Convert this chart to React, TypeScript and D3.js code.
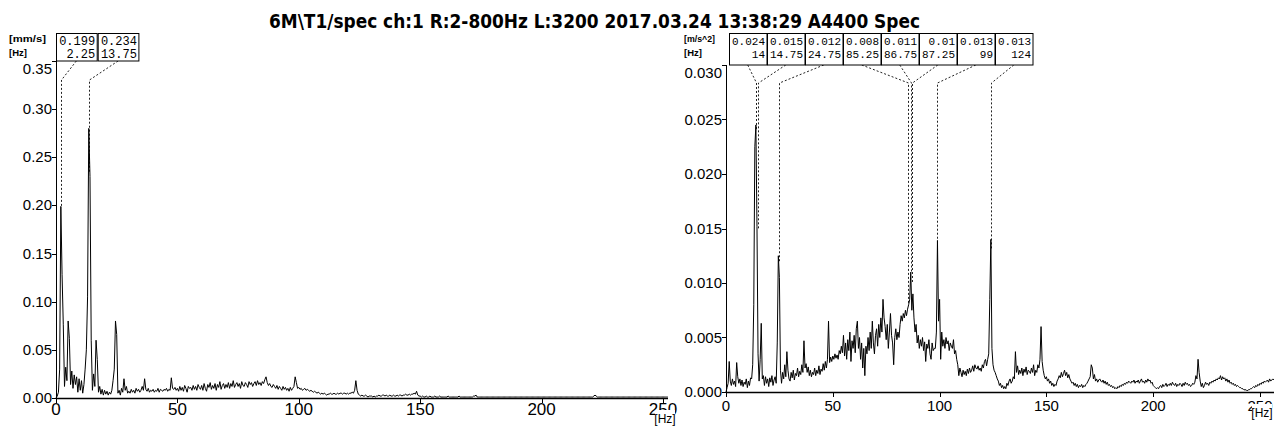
import * as d3 from "d3";

const title = "6M\\T1/spec ch:1 R:2-800Hz L:3200 2017.03.24 13:38:29 A4400 Spec";

// spectrum lines, 0.5 Hz apart starting at 0 Hz
const stepHz = 0.5;

// velocity, in 0.001 mm/s
const velocitySpec = [
  0, 2, 6, 30, 199, 128, 76, 12, 32, 18, 80, 62, 14, 28, 10, 24, 14, 22, 6, 20,
  8, 18, 5, 14, 30, 50, 105, 280, 230, 60, 8, 25, 12, 60, 40, 6, 12, 4, 9, 3,
  8, 4, 7, 3, 6, 4, 8, 18, 30, 80, 66, 5, 8, 3, 10, 6, 20, 8, 12, 5,
  7, 5, 9, 6, 8, 5, 10, 7, 9, 6, 8, 12, 8, 20, 9, 7, 10, 6, 8, 7,
  9, 6, 8, 7, 10, 6, 9, 8, 7, 9, 8, 10, 7, 9, 8, 21, 10, 9, 11, 8,
  10, 7, 12, 8, 11, 7, 13, 10, 6, 12, 10, 11, 8, 13, 9, 12, 8, 14, 11, 9,
  13, 8, 15, 10, 7, 14, 11, 16, 9, 13, 10, 15, 8, 14, 11, 17, 9, 13, 15, 10,
  14, 11, 16, 10, 15, 12, 18, 11, 14, 16, 12, 15, 10, 17, 13, 12, 16, 14, 11, 17,
  14, 16, 12, 15, 17, 13, 18, 14, 16, 13, 17, 15, 19, 22, 16, 13, 15, 12, 11, 14,
  12, 10, 13, 9, 12, 10, 8, 12, 9, 11, 8, 10, 7, 11, 8, 10, 12, 22, 16, 10,
  11, 9, 10, 8, 9, 10, 8, 9, 8, 7, 8, 7, 6, 7, 6, 5, 6, 5, 4, 5,
  4, 5, 4, 3, 4, 4, 5, 4, 4, 5, 4, 4, 5, 4, 5, 5, 4, 5, 5, 4,
  5, 4, 5, 5, 6, 5, 8, 18, 8, 4, 3, 2, 3, 2, 2, 3, 2, 1, 2, 2,
  2, 1, 2, 1, 2, 2, 3, 2, 2, 3, 3, 2, 3, 2, 2, 3, 2, 2, 3, 2,
  2, 3, 2, 3, 3, 2, 3, 3, 4, 3, 3, 4, 3, 4, 4, 5, 4, 7, 3, 2,
  2, 1, 2, 1, 1, 2, 1, 1, 2, 1, 1, 1, 2, 1, 1, 1, 2, 1, 1, 1,
  1, 1, 1, 2, 1, 1, 1, 1, 1, 1, 1, 1, 2, 1, 1, 1, 1, 1, 1, 1,
  1, 1, 1, 1, 2, 2, 3, 1, 1, 1, 1, 1, 1, 1, 1, 1, 1, 1, 1, 1,
  1, 1, 1, 1, 1, 1, 1, 1, 1, 1, 1, 1, 1, 1, 1, 1, 1, 1, 1, 1,
  1, 1, 1, 1, 1, 1, 1, 1, 1, 1, 1, 1, 1, 1, 1, 1, 1, 1, 1, 1,
  1, 1, 1, 1, 1, 1, 1, 1, 1, 1, 1, 1, 1, 1, 1, 1, 1, 1, 1, 1,
  1, 1, 1, 1, 1, 1, 1, 1, 1, 1, 1, 1, 1, 1, 1, 1, 1, 1, 1, 1,
  1, 1, 1, 2, 3, 2, 1, 1, 1, 1, 1, 1, 1, 1, 1, 1, 1, 1, 1, 1,
  1, 1, 1, 1, 1, 1, 1, 1, 1, 1, 1, 1, 1, 1, 1, 1, 1, 1, 1, 1,
  1, 1, 1, 1, 1, 1, 1, 1, 1, 1, 1, 1, 1, 1, 1, 1, 1, 1, 1, 1,
  1, 1, 1, 1, 1,
];

// acceleration, in 0.0001 m/s^2
const accelSpec = [
  0, 4, 8, 28, 10, 6, 12, 7, 10, 5, 27, 14, 8, 12, 6, 11, 5, 9, 7, 12,
  4, 10, 6, 13, 12, 25, 80, 225, 245, 152, 35, 10, 30, 63, 12, 15, 6, 14, 8, 12,
  5, 13, 9, 15, 6, 11, 14, 8, 45, 125, 105, 20, 8, 18, 12, 25, 14, 37, 20, 12,
  10, 18, 13, 20, 11, 17, 15, 22, 14, 19, 16, 25, 18, 47, 22, 26, 18, 23, 15, 20,
  14, 18, 16, 22, 15, 20, 17, 24, 16, 21, 19, 26, 20, 28, 22, 30, 65, 27, 32, 28,
  33, 30, 35, 31, 34, 30, 38, 35, 42, 36, 52, 33, 45, 30, 48, 38, 55, 28, 47, 40,
  52, 36, 58, 65, 40, 50, 30, 45, 22, 40, 15, 42, 35, 50, 38, 55, 40, 65, 45, 35,
  52, 58, 42, 62, 50, 68, 55, 85, 68, 60, 48, 62, 40, 55, 72, 52, 45, 25, 50, 58,
  48, 55, 50, 62, 70, 65, 72, 68, 75, 70, 76, 80, 85, 110, 75, 90, 68, 55, 62, 45,
  52, 40, 48, 42, 50, 38, 46, 28, 44, 40, 48, 35, 30, 45, 38, 40, 40, 55, 139, 65,
  85, 30, 55, 42, 48, 40, 50, 44, 47, 38, 45, 42, 40, 48, 35, 38, 30, 25, 15, 22,
  18, 14, 20, 16, 19, 15, 21, 17, 22, 18, 20, 24, 19, 25, 22, 21, 24, 20, 22, 19,
  25, 22, 28, 30, 24, 30, 35, 85, 140, 40, 25, 20, 18, 15, 12, 10, 6, 8, 4, 6,
  3, 5, 3, 8, 6, 10, 12, 8, 10, 14, 12, 37, 18, 24, 16, 20, 17, 22, 15, 21,
  18, 23, 16, 20, 19, 17, 22, 18, 25, 15, 20, 18, 25, 22, 30, 60, 28, 20, 15, 12,
  14, 10, 12, 8, 10, 6, 8, 5, 7, 6, 10, 12, 15, 13, 18, 14, 17, 20, 15, 18,
  13, 16, 12, 10, 8, 9, 6, 8, 5, 7, 4, 6, 5, 7, 4, 6, 5, 7, 8, 10,
  12, 14, 25, 22, 12, 16, 10, 12, 9, 11, 12, 10, 9, 11, 8, 10, 7, 9, 6, 7,
  5, 6, 4, 5, 3, 4, 3, 5, 4, 6, 5, 7, 6, 8, 7, 9, 8, 10, 9, 8,
  10, 9, 11, 8, 10, 9, 11, 8, 10, 12, 9, 10, 8, 11, 9, 12, 10, 11, 8, 9,
  6, 5, 4, 3, 4, 3, 5, 6, 4, 7, 5, 6, 8, 5, 7, 6, 8, 6, 9, 7,
  6, 8, 5, 7, 6, 8, 7, 5, 8, 6, 9, 7, 8, 6, 7, 5, 6, 8, 7, 9,
  15, 12, 30, 18, 10, 5, 8, 4, 6, 9, 7, 8, 6, 9, 8, 10, 9, 11, 10, 12,
  11, 13, 12, 15, 11, 14, 12, 13, 10, 12, 9, 11, 8, 9, 7, 8, 6, 7, 5, 6,
  5, 4, 4, 3, 3, 2, 2, 2, 1, 2, 2, 3, 3, 4, 5, 4, 6, 5, 7, 6,
  8, 7, 9, 8, 10, 9, 10, 11, 9, 12, 10, 11, 12, 11, 12,
];

const velMarkerHz = [2.25, 13.75];
const velMarkerVal = [0.199, 0.234];
const accMarkerHz = [14, 14.75, 24.75, 85.25, 86.75, 87.25, 99, 124];
const accMarkerVal = [0.024, 0.015, 0.012, 0.008, 0.011, 0.01, 0.013, 0.013];

const xTicks = [0, 50, 100, 150, 200, 250];
const velYTicks = [0, 0.05, 0.1, 0.15, 0.2, 0.25, 0.3, 0.35];
const accYTicks = [0, 0.005, 0.01, 0.015, 0.02, 0.025, 0.03];

const sans = "'Liberation Sans', Arial, sans-serif";
const mono = "'Liberation Mono', 'DejaVu Sans Mono', monospace";

function Panel({
  values, unit, x0, x1, xEnd, yBottom, yTop, yMax, yTicks, digits, xFont, xLabelDy,
  markerHz, markerVal, boxX, boxW, boxStep, boxFont, bendY, unitLabel, unitX, unitW,
}: any) {
  const x = d3.scaleLinear().domain([0, 250]).range([x0, x1]);
  const y = d3.scaleLinear().domain([0, yMax]).range([yBottom, yTop]);
  const line = d3
    .line<number>()
    .x((_, i) => x(i * stepHz))
    .y(d => y(d / unit));
  const boxTop = 33.5;
  const last = yTicks[yTicks.length - 1];

  return (
    <g>
      {/* markers */}
      {markerHz.map((f: number, i: number) => {
        const bx = boxX + i * boxStep;
        const cx = bx + boxW / 2;
        const px = Math.round(x(f)) + 0.5;
        return (
          <g key={i}>
            <path
              d={`M${cx},${yTop}L${px},${bendY}L${px},${y(markerVal[i])}`}
              fill="none"
              stroke="#222"
              strokeDasharray="2,2"
            />
            <rect x={bx + 0.5} y={boxTop} width={boxW} height={yTop - boxTop} fill="#fff" stroke="#000" />
            <text x={bx + boxW - 1.5} y={boxTop + 11.5} textAnchor="end" fontFamily={mono} fontSize={boxFont}>
              {String(markerVal[i])}
            </text>
            <text x={bx + boxW - 1.5} y={boxTop + 24} textAnchor="end" fontFamily={mono} fontSize={boxFont}>
              {String(f)}
            </text>
          </g>
        );
      })}

      <path d={line(values) ?? ""} fill="none" stroke="#000" strokeWidth={1} />

      {/* axes */}
      <line x1={x0 + 0.5} x2={x0 + 0.5} y1={yTop} y2={yBottom} stroke="#000" />
      <line x1={x0} x2={xEnd} y1={yBottom + 0.5} y2={yBottom + 0.5} stroke="#000" strokeWidth={1.3} />
      {yTicks.map((t: number) => (
        <g key={t}>
          <line x1={x0 - 4} x2={x0} y1={Math.round(y(t)) + 0.5} y2={Math.round(y(t)) + 0.5} stroke="#000" />
          <text x={x0 - 4} y={y(t) + (t === last ? 12.5 : 5)} textAnchor="end" fontFamily={sans} fontSize={15}>
            {t.toFixed(digits)}
          </text>
        </g>
      ))}
      {xTicks.map(t => (
        <g key={t}>
          <line x1={Math.round(x(t)) + 0.5} x2={Math.round(x(t)) + 0.5} y1={yBottom} y2={yBottom + 5} stroke="#000" />
          <text x={x(t)} y={yBottom + xLabelDy} textAnchor="middle" fontFamily={sans} fontSize={xFont}>
            {t}
          </text>
        </g>
      ))}
      <rect x={x(250) - 8} y={yBottom + 12} width={20} height={16} fill="#fff" />
      <text x={x(250) + 2} y={yBottom + 25} textAnchor="middle" fontFamily={sans} fontSize={12}>
        [Hz]
      </text>

      <text x={unitX} y={42} fontFamily={sans} fontSize={9.5} fontWeight="bold" textLength={unitW} lengthAdjust="spacingAndGlyphs">
        {unitLabel}
      </text>
      <text x={unitX} y={56} fontFamily={sans} fontSize={9.5} fontWeight="bold">
        [Hz]
      </text>
    </g>
  );
}

export default function App() {
  return (
    <svg width={1274} height={426} style={{ position: "absolute", left: 0, top: 0, background: "#fff" }}>
      <rect width={1274} height={426} fill="#fff" />
      <text
        x={594.5}
        y={28}
        textAnchor="middle"
        fontFamily="'Liberation Sans Narrow', 'DejaVu Sans Condensed', 'Liberation Sans', sans-serif"
        fontWeight="bold"
        fontSize={19}
        textLength={651}
        lengthAdjust="spacingAndGlyphs"
      >
        {title}
      </text>
      <Panel
        values={velocitySpec}
        unit={1000}
        x0={56}
        x1={663}
        xEnd={668}
        yBottom={398}
        yTop={61}
        yMax={0.35}
        yTicks={velYTicks}
        digits={2}
        xFont={17}
        xLabelDy={17}
        markerHz={velMarkerHz}
        markerVal={velMarkerVal}
        boxX={56}
        boxW={40.7}
        boxStep={41.7}
        boxFont={12}
        bendY={80}
        unitLabel="[mm/s]"
        unitX={9}
        unitW={37}
      />
      <Panel
        values={accelSpec}
        unit={10000}
        x0={726}
        x1={1260}
        xEnd={1274}
        yBottom={392}
        yTop={65}
        yMax={0.03}
        yTicks={accYTicks}
        digits={3}
        xFont={15}
        xLabelDy={19}
        markerHz={accMarkerHz}
        markerVal={accMarkerVal}
        boxX={729}
        boxW={37.5}
        boxStep={38}
        boxFont={11}
        bendY={83}
        unitLabel="[m/s^2]"
        unitX={684}
        unitW={31}
      />
    </svg>
  );
}
